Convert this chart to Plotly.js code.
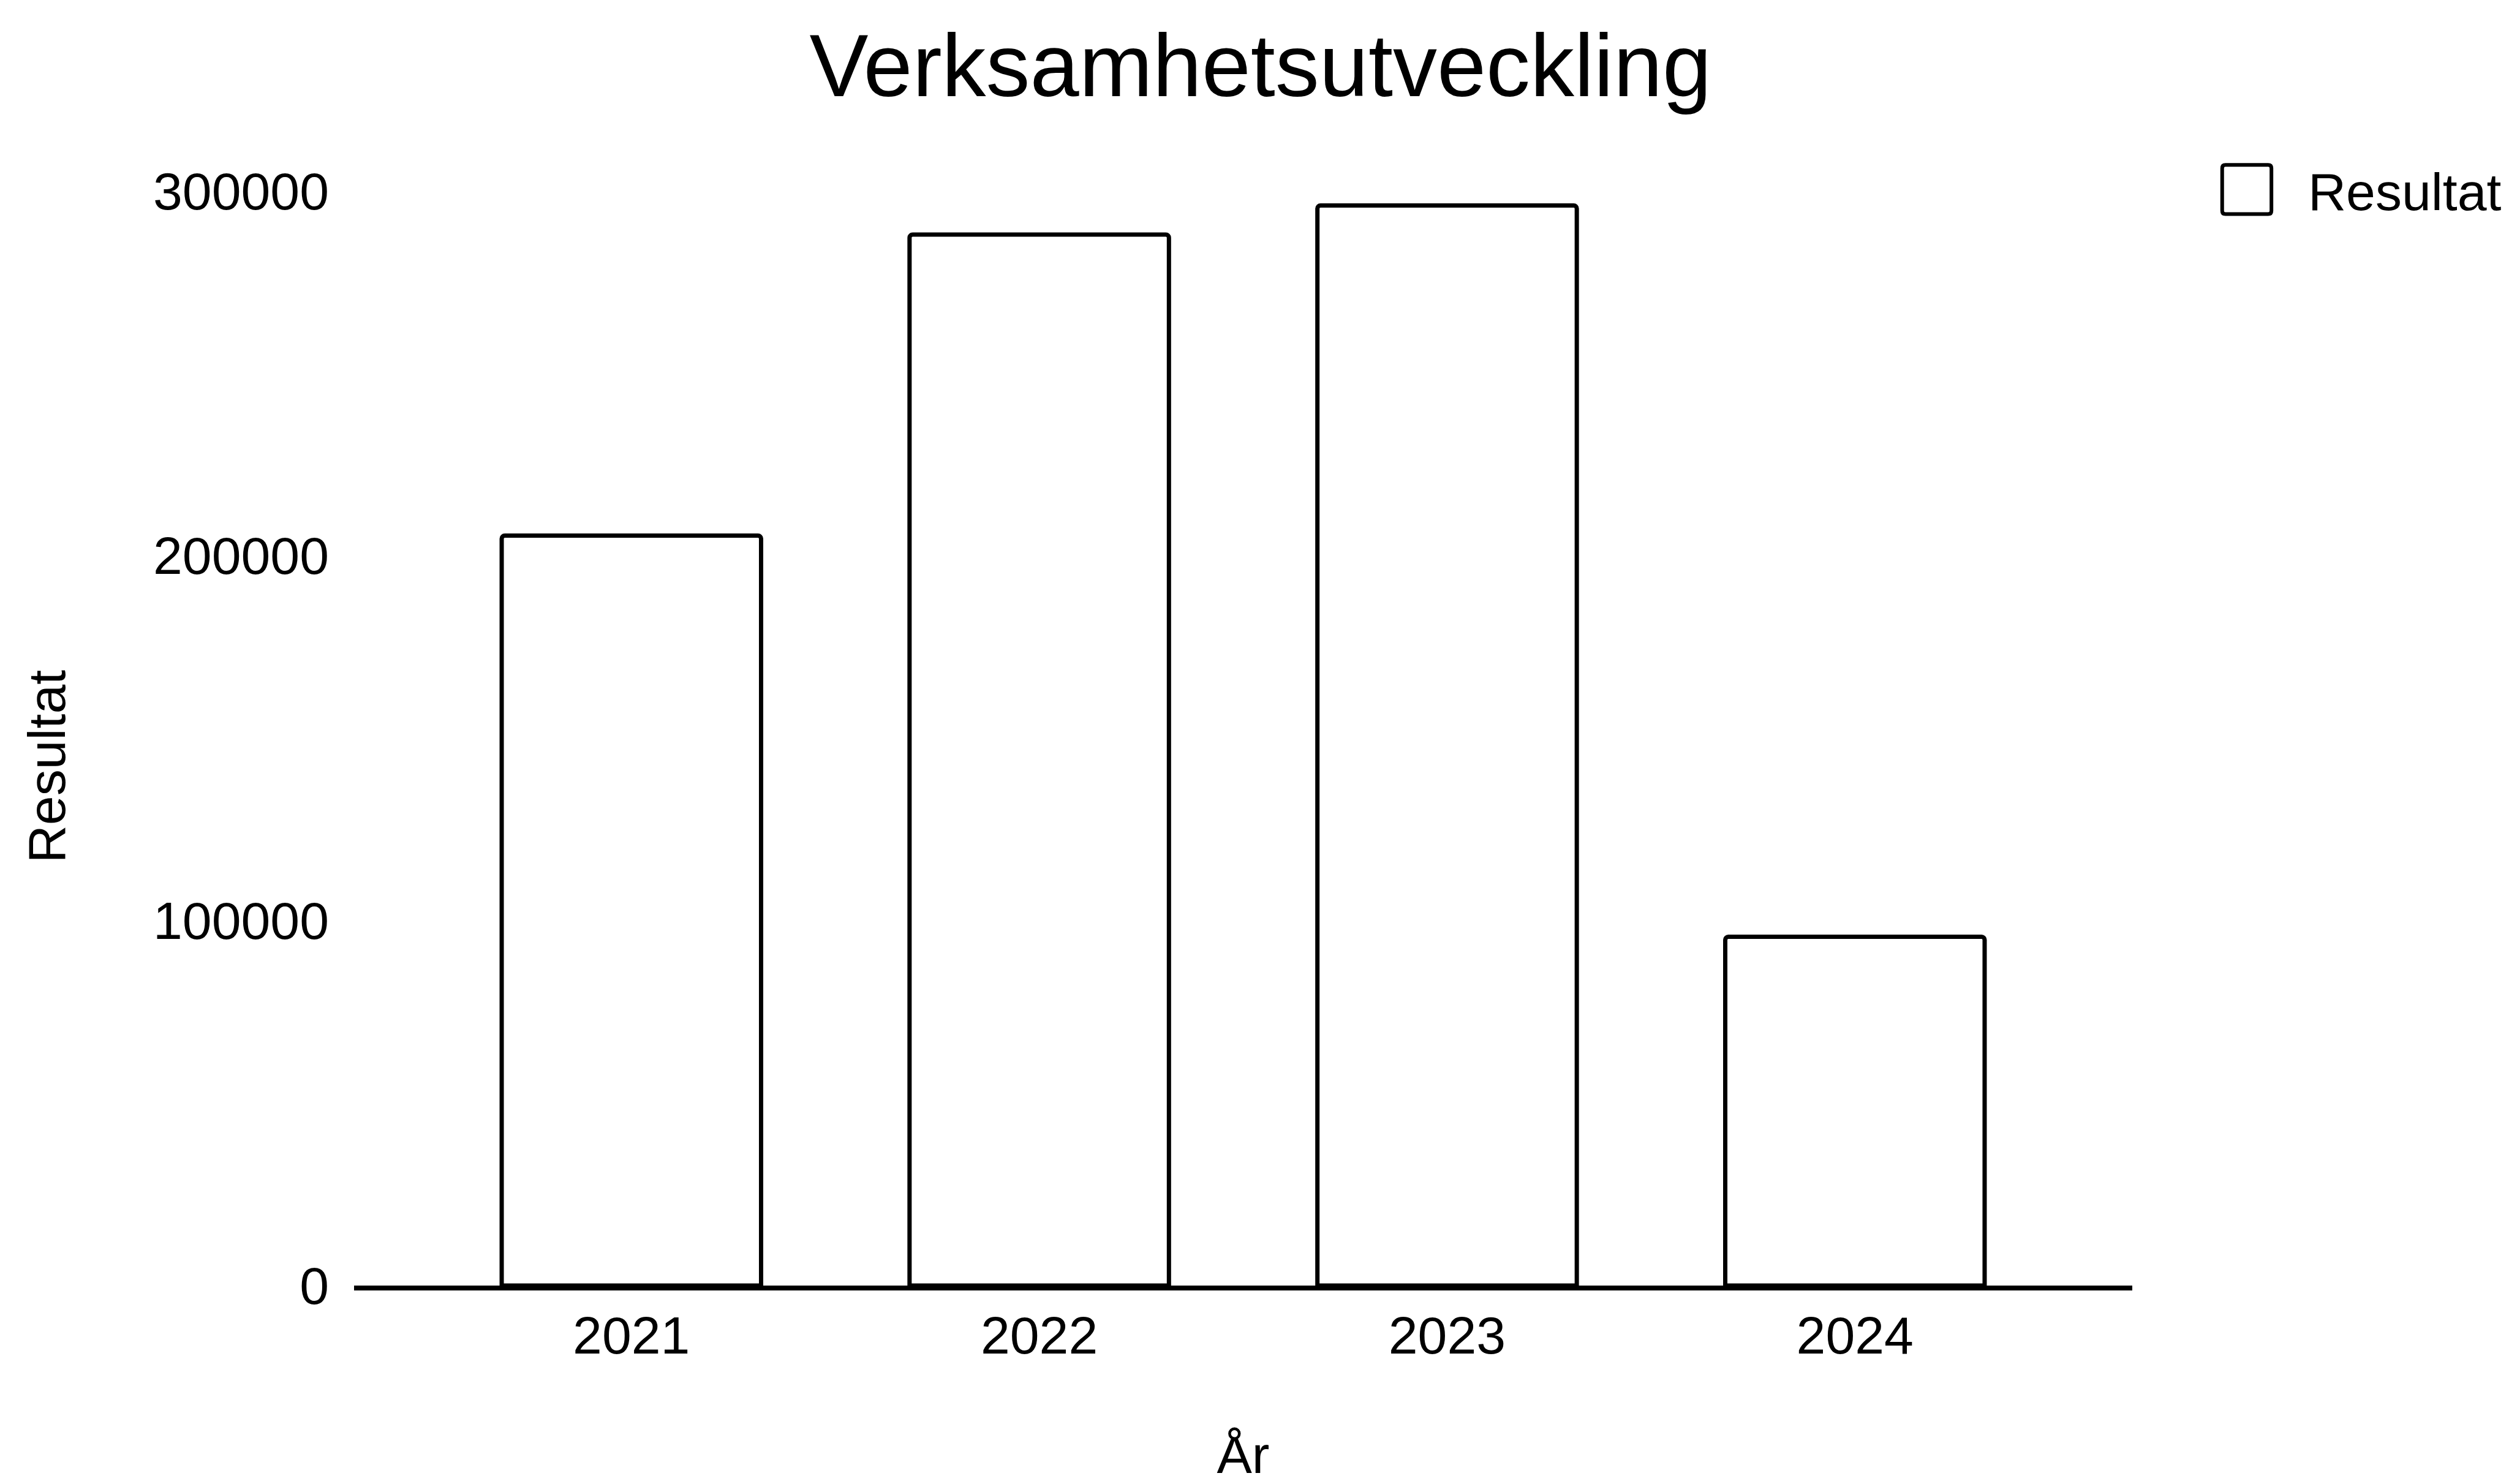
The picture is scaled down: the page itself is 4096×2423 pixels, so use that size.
<!DOCTYPE html>
<html>
<head>
<meta charset="utf-8">
<script src="https://cdn.plot.ly/plotly-3.0.1.min.js"></script>
<style>
  html, body { margin: 0; padding: 0; background: #ffffff; }
  #chart { width: 4096px; height: 2423px; }
</style>
</head>
<body>
<div id="chart"></div>
<script>
// ---- data ----
const years = ["2021", "2022", "2023", "2024"];
const resultat = [205500, 288000, 296000, 95600];
const seriesName = "Resultat";
const yTickVals = [0, 100000, 200000, 300000];
const chartTitle = "Verksamhetsutveckling";
const xTitle = "År";
const yTitle = "Resultat";

const FONT = "Liberation Sans, Arial, Helvetica, sans-serif";

const trace = {
  type: "bar",
  x: years,
  y: resultat,
  name: seriesName,
  showlegend: true,
  marker: {
    color: "#ffffff",
    line: { color: "#000000", width: 7 },
    cornerradius: 5
  },
  hoverinfo: "x+y"
};

const layout = {
  width: 4096,
  height: 2423,
  paper_bgcolor: "#ffffff",
  plot_bgcolor: "#ffffff",
  margin: { l: 578, r: 615, t: 252, b: 324, pad: 0, autoexpand: false },
  font: { family: FONT, color: "#000000", size: 86 },
  bargap: 0.364,
  title: {
    text: chartTitle,
    font: { family: FONT, size: 144, color: "#000000" },
    xref: "container",
    x: 0.5024,
    xanchor: "center",
    yref: "container",
    y: 0.956,
    yanchor: "middle"
  },
  xaxis: {
    type: "category",
    range: [-0.68, 3.68],
    showline: true,
    linecolor: "#000000",
    linewidth: 8,
    showgrid: false,
    zeroline: false,
    ticks: "",
    ticklabelstandoff: 0,
    tickfont: { family: FONT, size: 86, color: "#000000" },
    title: {
      text: xTitle,
      font: { family: FONT, size: 86, color: "#000000" },
      standoff: 160
    },
    automargin: false,
    fixedrange: true
  },
  yaxis: {
    range: [0, 310000],
    tickvals: yTickVals,
    tickformat: "d",
    showline: false,
    showgrid: false,
    zeroline: false,
    ticks: "",
    ticklabelstandoff: 40,
    tickfont: { family: FONT, size: 86, color: "#000000" },
    automargin: false,
    fixedrange: true
  },
  legend: {
    x: 1.0644,
    xanchor: "left",
    y: 1.0027,
    yanchor: "top",
    font: { family: FONT, size: 86, color: "#000000" },
    itemwidth: 90,
    bgcolor: "rgba(0,0,0,0)",
    borderwidth: 0
  },
  annotations: [
    {
      text: yTitle,
      xref: "paper",
      yref: "paper",
      x: -0.1729,
      y: 0.459,
      xanchor: "center",
      yanchor: "middle",
      textangle: -90,
      showarrow: false,
      font: { family: FONT, size: 86, color: "#000000" }
    }
  ]
};

Plotly.newPlot("chart", [trace], layout, { staticPlot: true, displayModeBar: false }).then(function () {
  // let the enlarged legend swatch show fully
  document.querySelectorAll(".legend [clip-path]").forEach(function (e) {
    e.removeAttribute("clip-path");
  });
  // enlarge the legend swatch to match the reference's large outlined box
  document.querySelectorAll(".legendpoints path").forEach(function (p) {
    p.setAttribute("d", "M6,5.2Q6,6 5.2,6H-5.2Q-6,6 -6,5.2V-5.2Q-6,-6 -5.2,-6H5.2Q6,-6 6,-5.2Z");
    p.setAttribute("transform", "scale(6.7)");
    p.style.vectorEffect = "non-scaling-stroke";
    p.style.strokeWidth = "6px";
  });
});
</script>
</body>
</html>
